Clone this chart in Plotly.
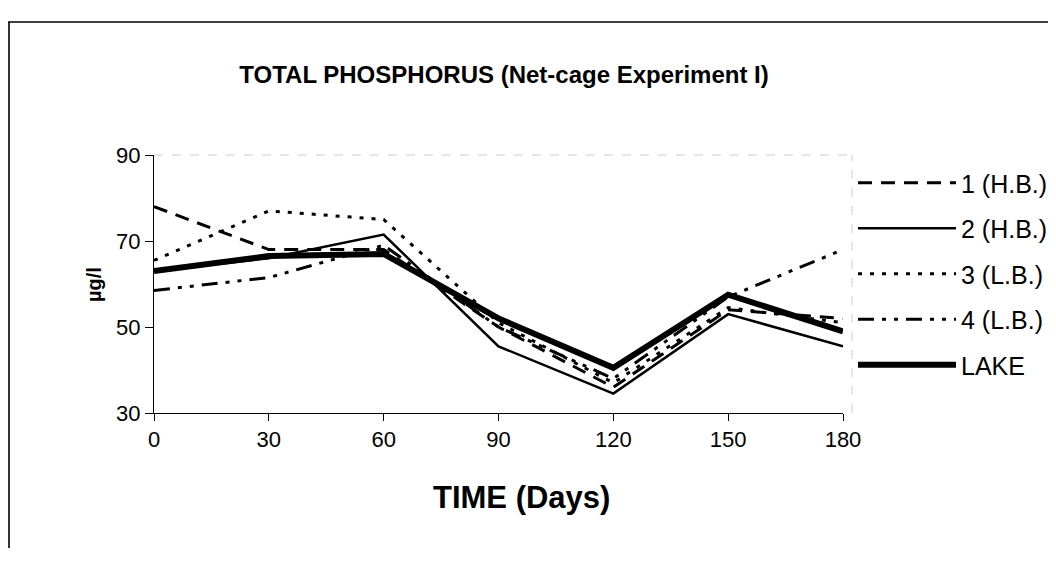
import plotly.graph_objects as go

days = [0, 30, 60, 90, 120, 150, 180]
s1_hb = [78, 68, 68, 50, 36, 54, 52]
s2_hb = [63, 66, 71.5, 45.5, 34.5, 53, 45.5]
s3_lb = [65.5, 77, 75, 51, 37, 54.5, 51]
s4_lb = [58.5, 61.5, 69, 50, 38, 57, 68]
lake = [63, 66.5, 67, 52, 40.5, 57.5, 49]

names = ["1 (H.B.)", "2 (H.B.)", "3 (L.B.)", "4 (L.B.)", "LAKE"]
series = [s1_hb, s2_hb, s3_lb, s4_lb, lake]
dashes = ["14px,9px", "solid", "4px,8px", "16px,8px,4px,8px,4px,8px", "solid"]
widths = [3, 2.5, 3, 3, 6]

L, R, T, B = 146, 836, 147, 405
W, H = 1056, 566
pw, ph = R - L, B - T

def px(xpix):
    return (xpix - L) / pw

def py(ypix):
    return (B - ypix) / ph

fig = go.Figure()
for i, (nm, ys, d, w) in enumerate(zip(names, series, dashes, widths)):
    fig.add_trace(go.Scatter(
        x=days, y=ys, mode="lines", name=nm,
        line=dict(color="black", width=w, dash=d),
        legendgroup=f"g{i}",
    ))

font = "Liberation Sans, Arial, sans-serif"

fig.update_layout(
    width=W, height=H,
    margin=dict(l=L, r=W - R, t=T, b=H - B),
    paper_bgcolor="white", plot_bgcolor="white",
    font=dict(family=font, color="black", size=22),
    title=dict(
        text="<b>TOTAL PHOSPHORUS (Net-cage Experiment I)</b>",
        x=(496) / W, xanchor="center", y=1 - 67 / H, yanchor="middle",
        font=dict(size=24, family=font),
    ),
    showlegend=True,
    legend=dict(
        x=px(845), xanchor="left", y=py(152), yanchor="top",
        itemwidth=98, tracegroupgap=10,
        font=dict(size=25, family=font),
        bgcolor="rgba(0,0,0,0)",
    ),
    xaxis=dict(
        range=[0, 180], tickvals=days, ticktext=[str(d) for d in days],
        showline=True, linecolor="black", linewidth=1,
        ticks="outside", ticklen=7, tickcolor="black",
        showgrid=False, zeroline=False,
        tickfont=dict(size=22),
    ),
    yaxis=dict(
        range=[30, 90], tickvals=[30, 50, 70, 90],
        showline=True, linecolor="black", linewidth=1,
        ticks="outside", ticklen=8, tickcolor="black",
        showgrid=False, zeroline=False,
        tickfont=dict(size=22),
    ),
    annotations=[
        dict(text="<b>TIME (Days)</b>", xref="paper", yref="paper",
             x=px(514), y=py(489), xanchor="center", yanchor="middle",
             showarrow=False, font=dict(size=31, family=font)),
        dict(text="<b>µg/l</b>", xref="paper", yref="paper",
             x=px(86), y=py(277), xanchor="center", yanchor="middle",
             textangle=-90, showarrow=False, font=dict(size=20, family=font)),
    ],
    shapes=[
        dict(type="line", xref="paper", yref="paper", x0=0, x1=px(845), y0=1, y1=1,
             line=dict(color="#cccccc", width=1, dash="dash")),
        dict(type="line", xref="paper", yref="paper", x0=px(845), x1=px(845), y0=0, y1=1,
             line=dict(color="#cccccc", width=1, dash="dash")),
        dict(type="line", xref="paper", yref="paper", x0=px(0), x1=px(W), y0=py(14), y1=py(14),
             line=dict(color="black", width=1.5)),
        dict(type="line", xref="paper", yref="paper", x0=px(0.8), x1=px(0.8), y0=py(14), y1=py(540),
             line=dict(color="black", width=1.6)),
    ],
)

fig.write_html("out.html")
